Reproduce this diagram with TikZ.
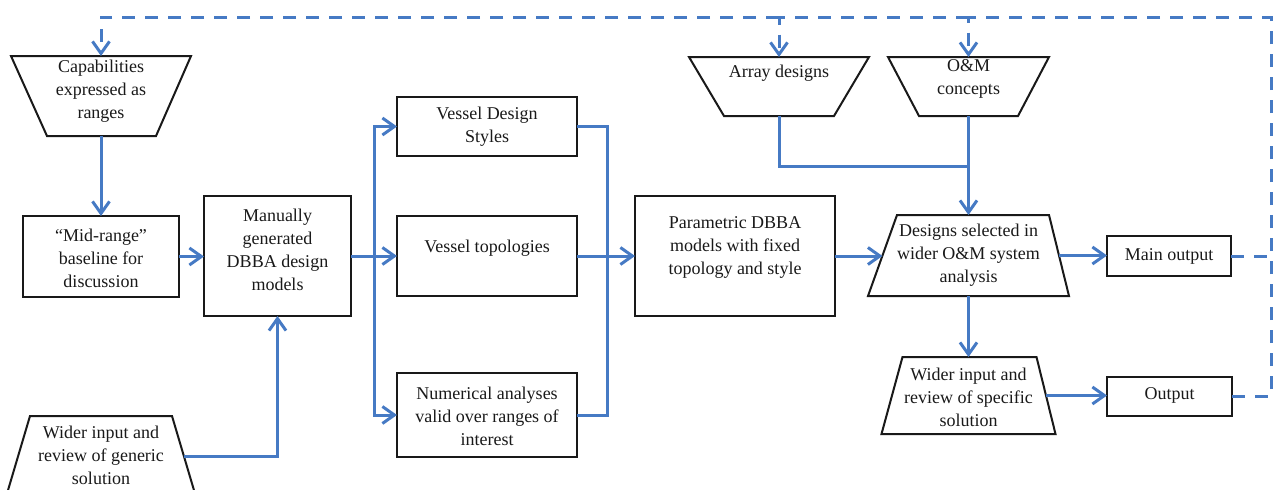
\documentclass[tikz,border=0pt]{standalone}
\usepackage{fontspec}
\setmainfont{Liberation Serif}
\usetikzlibrary{arrows.meta,calc}
\definecolor{flowblue}{RGB}{70,122,196}
\definecolor{ink}{RGB}{25,25,25}
\begin{document}
\begin{tikzpicture}[x=1pt,y=-1pt,
  every node/.style={outer sep=0pt, inner sep=0pt},
  box/.style={draw=ink, line width=2pt, rectangle},
  frame/.style={rectangle},
  edge/.style={draw=ink, line width=2pt, line join=miter},
  lbl/.style={font=\fontsize{18}{23}\selectfont, align=center, text=ink},
  link/.style={draw=flowblue, line width=3pt},
  flow/.style={link, -{Straight Barb[length=12pt,width=17pt]}},
  fb/.style={link, dash pattern=on 13pt off 10pt},
  fbarrow/.style={fb, -{Straight Barb[length=12pt,width=17pt]}}]
\useasboundingbox (0,0) rectangle (1275,490);
\clip (0,0) rectangle (1275,490);

% ---- left column ----
\node[frame, minimum width=180, minimum height=80] (cap) at (101,96) {};
\draw[edge] (cap.north west) -- (cap.north east) -- ($(cap.south east)+(-35,0)$) -- ($(cap.south west)+(36,0)$) -- cycle;
\node[lbl] (cap-t) at (101,91) {Capabilities\\expressed as\\ranges};

\node[box, minimum width=156, minimum height=81] (mid) at (101,256.5) {};
\node[lbl] (mid-t) at (101,258) {“Mid-range”\\baseline for\\discussion};

\node[frame, minimum width=190, minimum height=81] (wig) at (101,456.5) {};
\draw[edge] ($(wig.north west)+(24,0)$) -- ($(wig.north east)+(-24,0)$) -- (wig.south east) -- (wig.south west) -- cycle;
\node[lbl] (wig-t) at (101,455) {Wider input and\\review of generic\\solution};
\coordinate (wig-r) at (184,456.5);

\node[box, minimum width=147, minimum height=120] (man) at (277.5,256) {};
\node[lbl] (man-t) at (277.5,250) {Manually\\generated\\DBBA design\\models};

% ---- vessel column ----
\node[box, minimum width=180, minimum height=59] (vds) at (487,126.5) {};
\node[lbl] (vds-t) at (487,127) {Vessel Design\\Styles};

\node[box, minimum width=180, minimum height=80] (vt) at (487,256) {};
\node[lbl] (vt-t) at (487,248) {Vessel topologies};

\node[box, minimum width=180, minimum height=84] (num) at (487,415) {};
\node[lbl] (num-t) at (487,416) {Numerical analyses\\valid over ranges of\\interest};

\node[box, minimum width=200, minimum height=120] (par) at (735,256) {};
\node[lbl] (par-t) at (735,247) {Parametric DBBA\\models with fixed\\topology and style};

% ---- system column ----
\node[frame, minimum width=180, minimum height=59] (arr) at (779,86.5) {};
\draw[edge] (arr.north west) -- (arr.north east) -- ($(arr.south east)+(-35,0)$) -- ($(arr.south west)+(35,0)$) -- cycle;
\node[lbl] (arr-t) at (779,73) {Array designs};

\node[frame, minimum width=161, minimum height=59] (om) at (968.5,86.5) {};
\draw[edge] (om.north west) -- (om.north east) -- ($(om.south east)+(-31,0)$) -- ($(om.south west)+(31,0)$) -- cycle;
\node[lbl] (om-t) at (968.5,79) {O\&M\\concepts};

\node[frame, minimum width=201, minimum height=81] (des) at (968.5,255.5) {};
\draw[edge] ($(des.north west)+(29,0)$) -- ($(des.north east)+(-20,0)$) -- (des.south east) -- (des.south west) -- cycle;
\node[lbl] (des-t) at (968.5,255.5) {Designs selected in\\wider O\&M system\\analysis};
\coordinate (des-l) at (882.5,255.5);
\coordinate (des-r) at (1059,255.5);

\node[frame, minimum width=174, minimum height=77] (wis) at (968.5,395.5) {};
\draw[edge] ($(wis.north west)+(21,0)$) -- ($(wis.north east)+(-19,0)$) -- (wis.south east) -- (wis.south west) -- cycle;
\node[lbl] (wis-t) at (968.5,397) {Wider input and\\review of specific\\solution};
\coordinate (wis-r) at (1046,395.5);

\node[box, minimum width=124, minimum height=40] (mo) at (1169,256) {};
\node[lbl] (mo-t) at (1169,256) {Main output};

\node[box, minimum width=125, minimum height=39] (out) at (1169.5,396) {};
\node[lbl] (out-t) at (1169.5,395) {Output};

% ---- connectors ----
\draw[flow] (cap.south) -- (mid.north);
\draw[flow] (mid.east) -- (mid.east -| man.west);
\draw[flow] (wig-r) -| (man.south);

\coordinate (sp) at (374,256);
\draw[flow] (man.east) -- (vt.west);
\draw[flow] (sp) |- (vds.west);
\draw[flow] (sp) |- (num.west);

\coordinate (col) at (607,256);
\draw[link] (vds.east) -| (col);
\draw[link] (num.east) -| (col);
\draw[flow] (vt.east) -- (par.west);

\draw[flow] (par.east) -- (par.east -| des-l);
\coordinate (jn) at (968.5,166);
\draw[link] (arr.south) |- (jn);
\draw[flow] (om.south) -- (des.north);

\draw[flow] (des-r) -- (des-r -| mo.west);
\draw[flow] (des.south) -- (wis.north);
\draw[flow] (wis-r) -- (wis-r -| out.west);

% ---- feedback loop ----
\coordinate (rt) at (1271,17);
\draw[fb] (mo.east) -- (mo.east -| rt);
\draw[fbarrow] (out.east) -| (rt) -| (om.north);
\draw[fbarrow] (om.north |- rt) -| (arr.north);
\draw[fbarrow] (arr.north |- rt) -| (cap.north);
\end{tikzpicture}
\end{document}
